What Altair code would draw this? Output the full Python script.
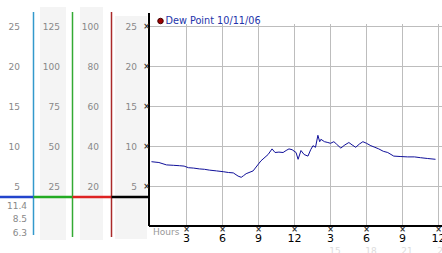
import altair as alt
import pandas as pd

# ---- data ----
hours = [0.08, 0.7, 1.33, 1.9, 2.41, 2.8, 3.16, 3.6, 4.07, 4.5, 4.9, 5.5, 6.06, 6.5, 6.9, 7.3, 7.56, 7.75,
         7.97, 8.55, 9.2, 9.8, 10.13, 10.38, 10.7, 11.05, 11.3, 11.54, 11.8, 12.13, 12.3, 12.54, 12.8, 13.12,
         13.35, 13.54, 13.75, 13.95, 14.1, 14.2, 14.5, 14.78, 15.0, 15.28, 15.5, 15.86, 16.2, 16.53, 16.8,
         17.1, 17.4, 17.7, 18.0, 18.36, 18.7, 19.02, 19.4, 19.77, 20.27, 20.8, 21.43, 22.0, 22.5, 23.1, 23.75]
dew = [8.1, 8.0, 7.7, 7.65, 7.6, 7.55, 7.35, 7.3, 7.2, 7.15, 7.05, 6.95, 6.85, 6.75, 6.7, 6.3, 6.15, 6.35,
       6.6, 6.95, 8.2, 9.0, 9.7, 9.25, 9.3, 9.25, 9.5, 9.7, 9.6, 9.25, 8.4, 9.5, 9.0, 8.8,
       9.6, 10.1, 9.9, 11.4, 10.6, 10.9, 10.6, 10.5, 10.4, 10.6, 10.3, 9.8, 10.2, 10.5, 10.2,
       9.9, 10.3, 10.6, 10.4, 10.1, 9.9, 9.7, 9.4, 9.25, 8.8, 8.75, 8.7, 8.7, 8.6, 8.5, 8.4]

grid_vals = [5, 10, 15, 20, 25]
col1_labels = ["5", "10", "15", "20", "25"]
col2_labels = ["25", "50", "75", "100", "125"]
col3_labels = ["20", "40", "60", "80", "100"]
col4_labels = ["5", "10", "15", "20", "25"]
low_labels = ["11.4", "8.5", "6.3"]

tick_hours = [3, 6, 9, 12, 15, 18, 21, 24]
tick_labels = ["3", "6", "9", "12", "3", "6", "9", "12"]
faint_hours = [15, 18, 21, 24]
faint_labels = ["15", "18", "21", "24"]
legend_label = "Dew Point 10/11/06"

FONT = "DejaVu Sans"

xs = alt.Scale(domain=[0, 24], range=[150.5, 438.5], nice=False, zero=False)
ys = alt.Scale(domain=[0, 25], range=[226.5, 26.5], nice=False, zero=False)

line_df = pd.DataFrame({"hour": hours, "val": dew})
grid_df = pd.DataFrame({"val": grid_vals})
vgrid_df = pd.DataFrame({"hour": tick_hours})
one = alt.Data(values=[{"a": 1}])


def X(field="hour"):
    return alt.X(f"{field}:Q", scale=xs, axis=None)


def Y(field="val"):
    return alt.Y(f"{field}:Q", scale=ys, axis=None)


def rect(x1, x2, y1, y2, color):
    return alt.Chart(one).mark_rect(color=color).encode(
        x=alt.value(x1), x2=alt.value(x2), y=alt.value(y1), y2=alt.value(y2))


def seg(x1, x2, y1, y2, color, w):
    return alt.Chart(one).mark_rule(color=color, strokeWidth=w).encode(
        x=alt.value(x1), x2=alt.value(x2), y=alt.value(y1), y2=alt.value(y2))


layers = []
# column backgrounds
layers += [rect(40, 66, 7, 240, "#f4f4f4"), rect(80, 103, 7, 240, "#f4f4f4"), rect(115, 147, 16, 239, "#f4f4f4")]

# grid
layers.append(alt.Chart(grid_df).mark_rule(color="#bdbdbd", strokeWidth=1).encode(
    y=Y(), x=alt.value(150), x2=alt.value(442)))
layers.append(alt.Chart(vgrid_df).mark_rule(color="#bdbdbd", strokeWidth=1).encode(
    x=X(), y=alt.value(24), y2=alt.value(226)))

# data line
layers.append(alt.Chart(line_df).mark_line(color="#10109a", strokeWidth=1).encode(x=X(), y=Y()))

# axes
layers.append(seg(149, 149, 13, 226, "#000000", 2))
layers.append(seg(149, 442, 226, 226, "#000000", 2))

# coloured column separators
layers.append(seg(33.5, 33.5, 12, 235, "#3399cc", 1.5))
layers.append(seg(72.5, 72.5, 12, 237, "#33aa33", 1.5))
layers.append(seg(111.5, 111.5, 12, 237, "#aa2a2a", 1.5))
layers.append(seg(0, 33.5, 197, 197, "#2244cc", 2.5))
layers.append(seg(33.5, 72.5, 197, 197, "#22aa22", 2.5))
layers.append(seg(72.5, 111.5, 197, 197, "#dd2222", 2.5))
layers.append(seg(111.5, 149, 197, 197, "#000000", 2.5))

# left column labels
for labels, xpos in [(col1_labels, 20), (col2_labels, 60), (col3_labels, 99), (col4_labels, 137)]:
    df = pd.DataFrame({"val": grid_vals, "label": labels})
    layers.append(alt.Chart(df).mark_text(align="right", baseline="middle", font=FONT, fontSize=9,
                                          color="#888888").encode(
        y=Y(), x=alt.value(xpos), text="label:N"))

low_df = pd.DataFrame({"label": low_labels, "row": list(range(len(low_labels)))})
layers.append(alt.Chart(low_df).transform_calculate(py="205.5 + datum.row * 13.7").mark_text(
    align="right", baseline="middle", font=FONT, fontSize=9, color="#888888").encode(
    y=alt.Y("py:Q", scale=None, axis=None), x=alt.value(27), text="label:N"))

# tick marks (small x-shaped glyphs)
layers.append(alt.Chart(grid_df).mark_text(text="×", font=FONT, fontSize=8, fontWeight="bold",
                                           baseline="middle", align="center",
                                           color="#333333").encode(y=Y(), x=alt.value(146.5)))
layers.append(alt.Chart(vgrid_df).mark_text(text="×", font=FONT, fontSize=8, fontWeight="bold",
                                            baseline="middle", align="center",
                                            color="#333333").encode(x=X(), y=alt.value(229.5)))

# x labels
xl_df = pd.DataFrame({"hour": tick_hours, "label": tick_labels})
layers.append(alt.Chart(xl_df).mark_text(align="center", baseline="alphabetic", font=FONT, fontSize=11,
                                         color="#000000").encode(x=X(), y=alt.value(241.5), text="label:N"))
fl_df = pd.DataFrame({"hour": faint_hours, "label": faint_labels})
layers.append(alt.Chart(fl_df).mark_text(align="center", baseline="alphabetic", font=FONT, fontSize=9,
                                         dx=4.5, color="#dcdcdc").encode(x=X(), y=alt.value(253.5),
                                                                          text="label:N"))
layers.append(alt.Chart(one).mark_text(align="left", baseline="middle", font=FONT, fontSize=9,
                                       color="#999999", text="Hours").encode(
    x=alt.value(153), y=alt.value(232)))

# legend
layers.append(alt.Chart(one).mark_point(shape="circle", filled=True, size=30, fill="#a00000",
                                        stroke="#400000", strokeWidth=1, opacity=1).encode(
    x=alt.value(160.5), y=alt.value(21)))
layers.append(alt.Chart(one).mark_text(align="left", baseline="middle", font=FONT, fontSize=9.7,
                                       color="#2233aa", text=legend_label).encode(
    x=alt.value(165.5), y=alt.value(21)))

chart = alt.layer(*layers).properties(
    width=442, height=253, autosize=alt.AutoSizeParams(type="none"), padding=0,
    background="#ffffff"
).configure_view(stroke=None)

chart.save("out.html", embed_options={"renderer": "svg", "actions": False})
